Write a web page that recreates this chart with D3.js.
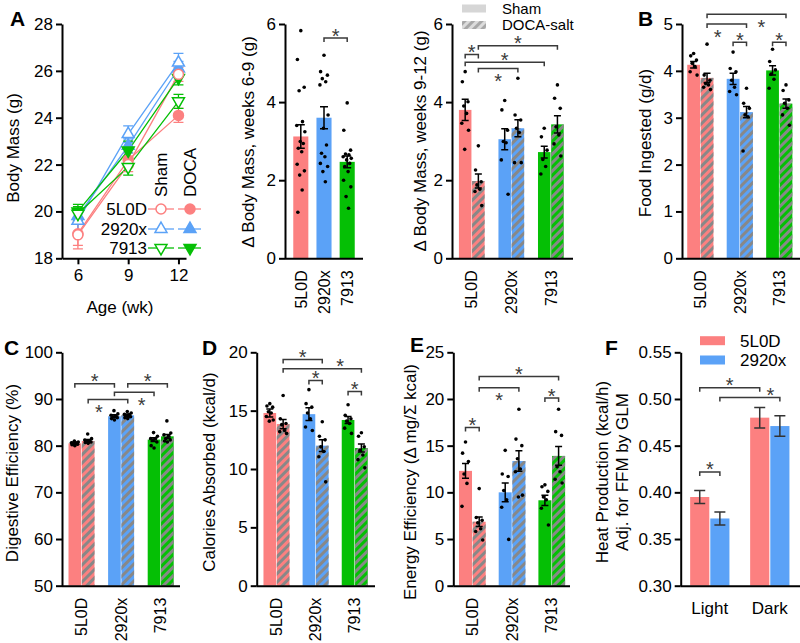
<!DOCTYPE html>
<html><head><meta charset="utf-8">
<script src="https://cdn.jsdelivr.net/npm/d3@7"></script>
<style>
body{margin:0;background:#fff;}
svg{display:block;font-family:"Liberation Sans",Arial,Helvetica,sans-serif;}
</style></head><body>
<svg id="c" width="800" height="643"></svg>
<script>
// ================= DATA =================
const strains = ["5L0D","2920x","7913"];
const strainColors = ["#fc8080","#5ba2f7","#05bf05"];
const treatments = ["Sham","DOCA-salt"];

// Panel A: body mass over time
const weeks = [6,9,12];
const bmTicks = [18,20,22,24,26,28];
const bmShamMean = [[19.0,22.0,25.85],[19.6,23.3,26.35],[19.9,21.9,24.7]];
const bmShamSem  = [[0.6,0.3,0.3],[0.5,0.35,0.4],[0.3,0.35,0.3]];
const bmDocaMean = [[19.05,22.2,24.1],[19.8,22.8,26.1],[20.0,22.6,25.7]];
const bmDocaSem  = [[0.5,0.3,0.3],[0.3,0.3,0.3],[0.3,0.4,0.3]];

// Panel: delta body mass weeks 6-9
const gain69Ticks = [0,2,4,6];
const gain69Mean = [3.12,3.6,2.47];
const gain69Sem  = [0.3,0.28,0.15];
const gain69Dots = [
  [5.83,5.09,4.38,4.29,3.5,3.4,3.24,2.99,2.94,2.82,2.73,2.41,2.24,2.13,1.75,1.18],
  [5.2,4.78,4.69,4.6,4.52,4.44,3.67,3.33,2.9,2.69,2.6,2.43,2.35,2.22,1.96],
  [3.98,3.28,2.77,2.67,2.65,2.6,2.56,2.52,2.43,2.35,2.22,2.0,1.83,1.58,1.28]];
const gain69Brackets = [{a:1,b:2,y:5.64,f:0.5,below:false}];

// Panel: delta body mass weeks 9-12 (pairs: Sham, DOCA-salt)
const gain912Ticks = [0,2,4,6];
const gain912Mean = [[3.8,1.98],[3.05,3.33],[2.72,3.43]];
const gain912Sem  = [[0.27,0.18],[0.27,0.22],[0.15,0.22]];
const gain912Dots = [
  [[4.78,4.52,4.01,3.9,3.71,3.46,3.28,2.79],[2.88,2.26,1.96,1.88,1.77,1.71,1.35]],
  [[4.04,3.8,3.28,2.99,2.96,2.52,1.64],[4.61,3.67,3.54,3.33,3.22,2.45,2.45]],
  [[3.33,3.11,2.77,2.53,2.35,2.16],[4.44,4.1,3.84,3.37,3.16,2.93,2.62]]];
const gain912Brackets = [
  {a:1,b:5,y:5.44,f:0.5,below:false},
  {a:0,b:1,y:5.22,f:0.5,below:false},
  {a:0,b:4,y:5.02,f:0.5,below:false},
  {a:1,b:3,y:4.86,f:0.5,below:true}];

// Panel B: food ingested
const foodTicks = [0,1,2,3,4,5];
const foodMean = [[4.13,3.85],[3.83,3.12],[4.01,3.3]];
const foodSem  = [[0.07,0.1],[0.12,0.12],[0.1,0.1]];
const foodDots = [
  [[4.37,4.32,4.23,4.16,4.09,3.98,3.91],[4.57,3.91,3.8,3.73,3.7,3.65,3.6]],
  [[4.4,4.05,3.98,3.8,3.65,3.56,3.49],[3.63,3.31,3.2,3.06,3.02,2.29]],
  [[4.46,4.2,4.02,3.93,3.82,3.63],[3.7,3.58,3.38,3.31,3.2,3.06,2.84]]];
const foodBrackets = [
  {a:1,b:5,y:5.21,f:0.69,below:true},
  {a:1,b:3,y:5.0,f:0.27,below:true},
  {a:2,b:3,y:4.61,f:0.5,below:false},
  {a:4,b:5,y:4.61,f:0.5,below:false}];

// Panel C: digestive efficiency
const digTicks = [50,60,70,80,90,100];
const digMean = [[80.5,81.0],[86.3,86.5],[81.3,82.0]];
const digSem  = [[0.3,0.3],[0.3,0.3],[0.4,0.4]];
const digDots = [
  [[80.0,80.2,80.3,80.4,80.5,80.6,80.8,81.0],[80.5,80.7,80.8,81.0,81.0,81.2,81.5,82.5]],
  [[85.5,85.8,86.0,86.2,86.3,86.5,86.8,87.5],[85.8,86.0,86.2,86.4,86.6,86.7,87.0,87.3]],
  [[79.5,80.0,80.8,81.2,81.5,81.5,82.0,82.8],[80.8,81.0,81.2,81.5,82.0,82.3,82.7,85.3]]];
const digBrackets = [
  {a:0,b:2,y:93.25,f:0.5,below:false},
  {a:3,b:5,y:93.25,f:0.5,below:false},
  {a:2,b:4,y:91.45,f:0.69,below:true},
  {a:1,b:3,y:89.9,f:0.27,below:true}];

// Panel D: calories absorbed
const calTicks = [0,5,10,15,20];
const calMean = [[14.8,13.85],[14.7,12.0],[14.2,11.8]];
const calSem  = [[0.35,0.4],[0.55,0.5],[0.3,0.35]];
const calDots = [
  [[15.6,15.4,15.3,14.9,14.8,14.5,14.2,14.1],[16.3,14.3,13.9,13.8,13.3,13.2,13.05]],
  [[16.8,15.6,15.3,14.8,14.3,13.6,13.3],[14.05,12.8,12.5,11.9,11.5,11.05,8.9]],
  [[15.5,14.6,14.3,14.1,13.9,13.5,13.05],[13.1,12.8,11.9,11.6,11.2,10.8,10.1]]];
const calBrackets = [
  {a:1,b:3,y:19.38,f:0.5,below:false},
  {a:1,b:5,y:18.6,f:0.73,below:false},
  {a:2,b:3,y:17.58,f:0.5,below:false},
  {a:4,b:5,y:16.64,f:0.5,below:false}];

// Panel E: energy efficiency
const effTicks = [0,5,10,15,20,25];
const effMean = [[12.3,6.85],[10.0,13.35],[9.15,13.9]];
const effSem  = [[0.8,0.5],[1.0,1.1],[0.55,1.0]];
const effDots = [
  [[15.4,14.2,13.3,11.96,10.96,8.5],[10.4,7.3,7.0,6.75,6.1,5.8,4.9]],
  [[14.5,11.96,11.7,10.2,9.2,8.4,4.96],[18.9,15.7,15.0,13.6,12.5,12.2,9.7,9.5]],
  [[10.8,10.6,10.1,9.5,9.2,8.3,6.5],[18.9,16.5,16.1,12.75,12.2,11.4,11.0]]];
const effBrackets = [
  {a:1,b:5,y:22.4,f:0.5,below:false},
  {a:1,b:3,y:21.2,f:0.5,below:true},
  {a:4,b:5,y:20.1,f:0.5,below:false},
  {a:0,b:1,y:16.95,f:0.5,below:false}];

// Panel F: heat production
const phases = ["Light","Dark"];
const heatStrains = ["5L0D","2920x"];
const heatTicks = [0.30,0.35,0.40,0.45,0.50,0.55];
const heatMean = [[0.395,0.372],[0.480,0.471]];
const heatSem  = [[0.007,0.007],[0.011,0.011]];
const heatBrackets = [
  {a:0,b:2,y:0.512,f:0.5,below:false},
  {a:1,b:3,y:0.5016,f:0.84,below:false},
  {a:0,b:1,y:0.4218,f:0.5,below:false}];

// ================= DRAWING =================
const svg = d3.select("#c");
const FS = 17;
const defs = svg.append("defs");
function makeHatch(id, bg, stripe){
  const p = defs.append("pattern").attr("id",id).attr("patternUnits","userSpaceOnUse")
    .attr("width",6).attr("height",6).attr("patternTransform","rotate(45)");
  if (bg) p.append("rect").attr("width",6).attr("height",6).attr("fill",bg);
  p.append("rect").attr("x",0).attr("y",0).attr("width",3).attr("height",6).attr("fill",stripe);
}
makeHatch("hatch", null, "#888888");
makeHatch("hatchLeg", "#dcdcdc", "#a8a8a8");

function styleAxis(g){
  g.selectAll("path.domain").attr("stroke","#000").attr("stroke-width",2);
  g.selectAll(".tick line").attr("stroke","#000").attr("stroke-width",2);
  g.selectAll(".tick text").attr("fill","#000").attr("font-size",FS)
    .attr("font-family","'Liberation Sans',Arial,sans-serif");
}
function rotTitle(lines, cx, cy){
  const n = lines.length;
  lines.forEach((t,k)=>{
    svg.append("text").attr("transform",`translate(${cx + (k-(n-1)/2)*20 + 6},${cy}) rotate(-90)`)
      .attr("text-anchor","middle").attr("font-size",FS).attr("fill","#000").text(t);
  });
}
function panelLabel(t,x,y){
  svg.append("text").attr("x",x).attr("y",y).attr("font-size",21).attr("font-weight","bold").text(t);
}
const jit = [0,-0.3,0.3,-0.15,0.15,-0.36,0.36,-0.05,0.22,-0.22,0.08,-0.32,0.32,-0.1,0.12,-0.26,0.26];

function drawBrackets(g, list, center, y){
  const col = "#3a3a3a";
  list.forEach(b=>{
    const x1 = center(b.a), x2 = center(b.b), yy = y(b.y);
    g.append("path").attr("d",`M${x1},${yy+4}V${yy}H${x2}V${yy+4}`)
      .attr("fill","none").attr("stroke",col).attr("stroke-width",1.5);
    const sx = x1 + (x2-x1)*b.f;
    g.append("text").attr("x",sx).attr("y", b.below ? yy+19.5 : yy+4.5)
      .attr("text-anchor","middle").attr("font-size",20).attr("fill",col).text("*");
  });
}

function drawBarPanel(c){
  const g = svg.append("g");
  const y = d3.scaleLinear().domain(c.domain).range([c.yBot,c.yTop]);
  const x = d3.scaleBand().domain(c.cats).range(c.range);
  let barW, center;
  if (c.paired){
    x.padding(0);
    const sub = d3.scaleBand().domain([0,1]).range([-c.pairW/2,c.pairW/2]).paddingInner(0.05);
    barW = sub.bandwidth();
    center = i => x(c.cats[Math.floor(i/2)]) + x.step()/2 + sub(i%2) + barW/2;
  } else {
    x.paddingInner(0.35).paddingOuter(0.175);
    barW = x.bandwidth();
    center = i => x(c.cats[i]) + barW/2;
  }
  const items = [];
  c.means.forEach((m,si)=>{
    if (c.paired) m.forEach((v,ti)=>items.push({i:si*2+ti,s:si,t:ti,v,e:c.sems[si][ti],dots:c.dots?c.dots[si][ti]:[]}));
    else items.push({i:si,s:si,t:0,v:m,e:c.sems[si],dots:c.dots[si]});
  });
  const y0 = y(c.domain[0]);
  g.selectAll("rect.bar").data(items).join("rect").attr("class","bar")
    .attr("x",d=>center(d.i)-barW/2).attr("y",d=>y(d.v)).attr("width",barW)
    .attr("height",d=>y0-y(d.v)).attr("fill",d=>c.color(d));
  if (c.hatch){
    g.selectAll("rect.h").data(items.filter(d=>d.t===1)).join("rect").attr("class","h")
      .attr("x",d=>center(d.i)-barW/2).attr("y",d=>y(d.v)).attr("width",barW)
      .attr("height",d=>y0-y(d.v)).attr("fill","url(#hatch)");
  }
  items.forEach(d=>{
    g.selectAll(null).data(d.dots).join("circle")
      .attr("cx",(v,k)=>center(d.i)+jit[k%jit.length]*barW*0.75).attr("cy",v=>y(v))
      .attr("r",1.8).attr("fill","#000");
  });
  const cw = c.capW;
  g.selectAll("path.err").data(items).join("path").attr("class","err")
    .attr("d",d=>{const cx=center(d.i), a=y(d.v+d.e), b=y(d.v-d.e);
      return `M${cx},${a}V${b}M${cx-cw/2},${a}H${cx+cw/2}M${cx-cw/2},${b}H${cx+cw/2}`;})
    .attr("fill","none").attr("stroke",c.errColor||"#000").attr("stroke-width",1.5);
  drawBrackets(g, c.brackets, center, y);
  const ya = g.append("g").attr("transform",`translate(${c.axisX},0)`)
    .call(d3.axisLeft(y).tickValues(c.ticks).tickFormat(c.fmt||d3.format("d")).tickSize(6).tickSizeOuter(0).tickPadding(3));
  styleAxis(ya);
  g.append("line").attr("x1",c.axisX).attr("x2",c.xEnd).attr("y1",y0+0.5).attr("y2",y0+0.5)
    .attr("stroke","#000").attr("stroke-width",2);
  const catCenter = (cat,k) => c.paired ? x(cat)+x.step()/2 : center(k);
  if (c.rotLabels){
    g.selectAll("text.cat").data(c.cats).join("text").attr("class","cat")
      .attr("transform",(d,k)=>`translate(${catCenter(d,k)+5.7},${y0+12}) rotate(-90)`)
      .attr("text-anchor","end").attr("font-size",16).text(d=>d);
  } else {
    g.selectAll("text.cat").data(c.cats).join("text").attr("class","cat")
      .attr("x",(d,k)=>catCenter(d,k)).attr("y",y0+28)
      .attr("text-anchor","middle").attr("font-size",FS).text(d=>d);
  }
  rotTitle(c.title, c.titleX, c.titleY);
}

// ---------- Panel A ----------
(function(){
  const g = svg.append("g");
  const x = d3.scaleLinear().domain([5.05,12.45]).range([62,186]);
  const y = d3.scaleLinear().domain([18,28]).range([258.3,24]);
  const series = [];
  strains.forEach((s,si)=>{
    series.push({s:si,filled:true,m:bmDocaMean[si],e:bmDocaSem[si]});
    series.push({s:si,filled:false,m:bmShamMean[si],e:bmShamSem[si]});
  });
  const line = d3.line().x((v,k)=>x(weeks[k])).y(v=>y(v));
  series.forEach(d=>{
    g.append("path").attr("d",line(d.m)).attr("fill","none").attr("stroke",strainColors[d.s]).attr("stroke-width",1.3);
  });
  series.forEach(d=>{
    d.m.forEach((v,k)=>{
      const cx=x(weeks[k]), a=y(v+d.e[k]), b=y(v-d.e[k]);
      g.append("path").attr("d",`M${cx},${a}V${b}M${cx-5},${a}H${cx+5}M${cx-5},${b}H${cx+5}`)
        .attr("fill","none").attr("stroke",strainColors[d.s]).attr("stroke-width",1.3);
    });
  });
  function marker(sel, si, filled, cx, cy){
    const col = strainColors[si];
    let m;
    if (si===0) m = sel.append("circle").attr("cx",cx).attr("cy",cy).attr("r",5);
    else m = sel.append("path").attr("d",d3.symbol(d3.symbolTriangle,62)())
      .attr("transform",`translate(${cx},${cy})${si===2?" rotate(180)":""}`);
    m.attr("fill",filled?col:"#fff").attr("stroke",col).attr("stroke-width",1.5);
  }
  series.filter(d=>d.filled).forEach(d=>{ d.m.forEach((v,k)=>marker(g,d.s,true,x(weeks[k]),y(v))); });
  series.filter(d=>!d.filled).forEach(d=>{ d.m.forEach((v,k)=>marker(g,d.s,false,x(weeks[k]),y(v))); });
  const ya = g.append("g").attr("transform","translate(62,0)")
    .call(d3.axisLeft(y).tickValues(bmTicks).tickSize(6).tickSizeOuter(0).tickPadding(3));
  styleAxis(ya);
  const xa = g.append("g").attr("transform","translate(0,258.3)")
    .call(d3.axisBottom(x).tickValues(weeks).tickSize(6).tickSizeOuter(0).tickPadding(5));
  styleAxis(xa);
  g.append("text").attr("x",120).attr("y",313).attr("text-anchor","middle").attr("font-size",FS).text("Age (wk)");
  rotTitle(["Body Mass (g)"], 13, 148);
  const rowsY = [209,229,248];
  strains.forEach((s,si)=>{
    const ry = rowsY[si], col = strainColors[si];
    g.append("text").attr("x",147).attr("y",ry+6).attr("text-anchor","end").attr("font-size",FS).text(s);
    g.append("line").attr("x1",148).attr("x2",174).attr("y1",ry).attr("y2",ry).attr("stroke",col).attr("stroke-width",1.3);
    g.append("line").attr("x1",178).attr("x2",201).attr("y1",ry).attr("y2",ry).attr("stroke",col).attr("stroke-width",1.3);
    marker(g, si, false, 161, ry);
    marker(g, si, true, 190, ry);
  });
  g.append("text").attr("transform","translate(167,197) rotate(-90)").attr("font-size",FS).text("Sham");
  g.append("text").attr("transform","translate(196,197) rotate(-90)").attr("font-size",FS).text("DOCA");
})();
panelLabel("A",10,26);

const colorPaired = d=>strainColors[d.s];

drawBarPanel({axisX:285,xEnd:363,range:[289.2,358.8],yTop:24,yBot:258.3,domain:[0,6],ticks:gain69Ticks,
  cats:strains,means:gain69Mean,sems:gain69Sem,dots:gain69Dots,brackets:gain69Brackets,paired:false,
  color:colorPaired,capW:8,rotLabels:true,title:["\u0394 Body Mass, weeks 6-9 (g)"],titleX:248,titleY:142});

drawBarPanel({axisX:452,xEnd:573,range:[452,570.6],pairW:25.7,yTop:24,yBot:258.3,domain:[0,6],ticks:gain912Ticks,
  cats:strains,means:gain912Mean,sems:gain912Sem,dots:gain912Dots,brackets:gain912Brackets,paired:true,hatch:true,
  color:colorPaired,capW:7,rotLabels:true,title:["\u0394 Body Mass, weeks 9-12 (g)"],titleX:420,titleY:141});
(function(){
  const g = svg.append("g");
  const ly = [8.5,25];
  treatments.forEach((t,k)=>{
    g.append("rect").attr("x",462).attr("y",ly[k]-4).attr("width",24).attr("height",8)
      .attr("fill",k===0?"#d6d6d6":"url(#hatchLeg)");
    g.append("text").attr("x",502).attr("y",ly[k]+5.4).attr("font-size",15).text(t);
  });
})();

drawBarPanel({axisX:682,xEnd:800,range:[680.6,799],pairW:26.2,yTop:24,yBot:258.3,domain:[0,5],ticks:foodTicks,
  cats:strains,means:foodMean,sems:foodSem,dots:foodDots,brackets:foodBrackets,paired:true,hatch:true,
  color:colorPaired,capW:7,rotLabels:true,title:["Food Ingested (g/d)"],titleX:645,titleY:143});
panelLabel("B",638,26);

drawBarPanel({axisX:62,xEnd:180,range:[61.7,180.5],pairW:26,yTop:352.3,yBot:585.7,domain:[50,100],ticks:digTicks,
  cats:strains,means:digMean,sems:digSem,dots:digDots,brackets:digBrackets,paired:true,hatch:true,
  color:colorPaired,capW:7,rotLabels:true,title:["Digestive Efficiency (%)"],titleX:12,titleY:473});
panelLabel("C",4,355);

drawBarPanel({axisX:256.7,xEnd:375,range:[256.9,374.3],pairW:26,yTop:352.3,yBot:585.7,domain:[0,20],ticks:calTicks,
  cats:strains,means:calMean,sems:calSem,dots:calDots,brackets:calBrackets,paired:true,hatch:true,
  color:colorPaired,capW:7,rotLabels:true,title:["Calories Absorbed (kcal/d)"],titleX:209,titleY:472});
panelLabel("D",202,355);

drawBarPanel({axisX:453.3,xEnd:570,range:[452.5,571.6],pairW:26.7,yTop:352.3,yBot:585.7,domain:[0,25],ticks:effTicks,
  cats:strains,means:effMean,sems:effSem,dots:effDots,brackets:effBrackets,paired:true,hatch:true,
  color:colorPaired,capW:7,rotLabels:true,title:["Energy Efficiency (\u0394 mg/\u03A3 kcal)"],titleX:410,titleY:482});
panelLabel("E",410,352);

drawBarPanel({axisX:680.7,xEnd:800,range:[679.8,799.8],pairW:39.3,yTop:352.3,yBot:585.7,domain:[0.30,0.55],ticks:heatTicks,
  fmt:d3.format(".2f"),cats:phases,means:heatMean,sems:heatSem,dots:null,brackets:heatBrackets,paired:true,hatch:false,
  color:d=>strainColors[d.t],errColor:"#333",capW:11,rotLabels:false,
  title:["Heat Production (kcal/h)","Adj. for FFM by GLM"],titleX:611.5,titleY:472});
panelLabel("F",605,355);
(function(){
  const g = svg.append("g");
  const ly = [340.7,360];
  heatStrains.forEach((s,k)=>{
    g.append("rect").attr("x",700).attr("y",ly[k]-4.5).attr("width",25).attr("height",9).attr("fill",strainColors[k]);
    g.append("text").attr("x",740).attr("y",ly[k]+6).attr("font-size",FS).text(s);
  });
})();
</script>
</body></html>
